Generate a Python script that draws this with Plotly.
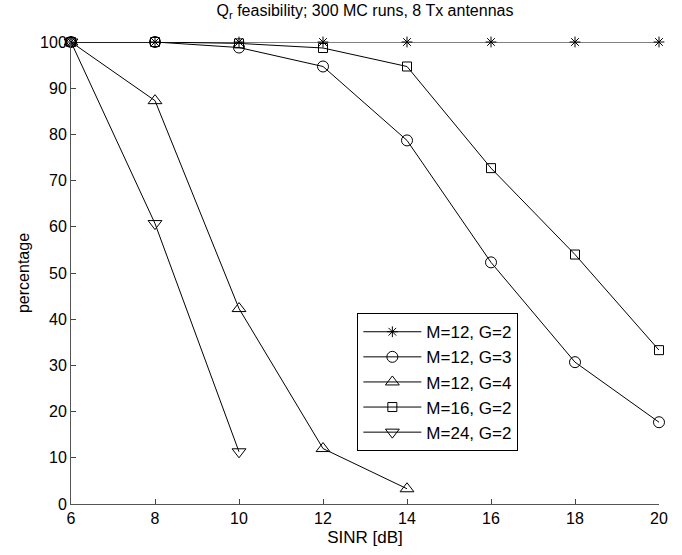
import plotly.graph_objects as go

sinr = [6, 8, 10, 12, 14, 16, 18, 20]
m12_g2 = [100, 100, 100, 100, 100, 100, 100, 100]
m12_g3 = [100, 100, 98.8, 94.7, 78.7, 52.3, 30.7, 17.7]
x_m12_g4 = [6, 8, 10, 12, 14]
m12_g4 = [100, 87.3, 42.3, 12.0, 3.3]
m16_g2 = [100, 100, 99.7, 98.7, 94.7, 72.7, 54.0, 33.3]
x_m24_g2 = [6, 8, 10]
m24_g2 = [100, 60.7, 11.3]

series = [
    ("M=12, G=2", sinr, m12_g2, "asterisk-open", 9),
    ("M=12, G=3", sinr, m12_g3, "circle-open", 11),
    ("M=12, G=4", x_m12_g4, m12_g4, "triangle-up-open", 12),
    ("M=16, G=2", sinr, m16_g2, "square-open", 9),
    ("M=24, G=2", x_m24_g2, m24_g2, "triangle-down-open", 12),
]

fig = go.Figure()
for name, xs, ys, sym, sz in series:
    fig.add_trace(go.Scatter(
        x=xs, y=ys, name=name, mode="lines+markers",
        line=dict(color="black", width=1),
        marker=dict(symbol=sym, size=sz, color="black", line=dict(width=1, color="black")),
        cliponaxis=False,
    ))

font = "Liberation Sans, Arial, sans-serif"
fig.update_layout(
    width=682, height=555,
    margin=dict(l=71, r=23, t=42, b=51),
    paper_bgcolor="white", plot_bgcolor="white",
    font=dict(family=font, size=16, color="black"),
    title=dict(text="Q<sub>r</sub> feasibility; 300 MC runs, 8 Tx antennas",
               x=0.5, xref="paper", xanchor="center", y=0.992, yanchor="top",
               font=dict(size=16, family=font)),
    showlegend=True,
    legend=dict(x=0.487, y=0.413, xanchor="left", yanchor="top",
                bordercolor="black", borderwidth=1, bgcolor="white",
                font=dict(size=17), itemwidth=58, tracegroupgap=0),
)
fig.update_xaxes(range=[6, 20], tickmode="array", tickvals=sinr,
                 ticks="inside", ticklen=5, tickcolor="#444",
                 showline=True, linecolor="#555", linewidth=1,
                 showgrid=False, zeroline=False,
                 title=dict(text="SINR [dB]", standoff=4, font=dict(size=17)),
                 tickfont=dict(size=16))
fig.update_yaxes(range=[0, 100], tickvals=list(range(0, 101, 10)),
                 ticks="inside", ticklen=5, tickcolor="#444",
                 showline=True, linecolor="#555", linewidth=1,
                 showgrid=False, zeroline=False,
                 title=dict(text="percentage", standoff=6, font=dict(size=16)),
                 tickfont=dict(size=16))

fig.write_html("out.html")
